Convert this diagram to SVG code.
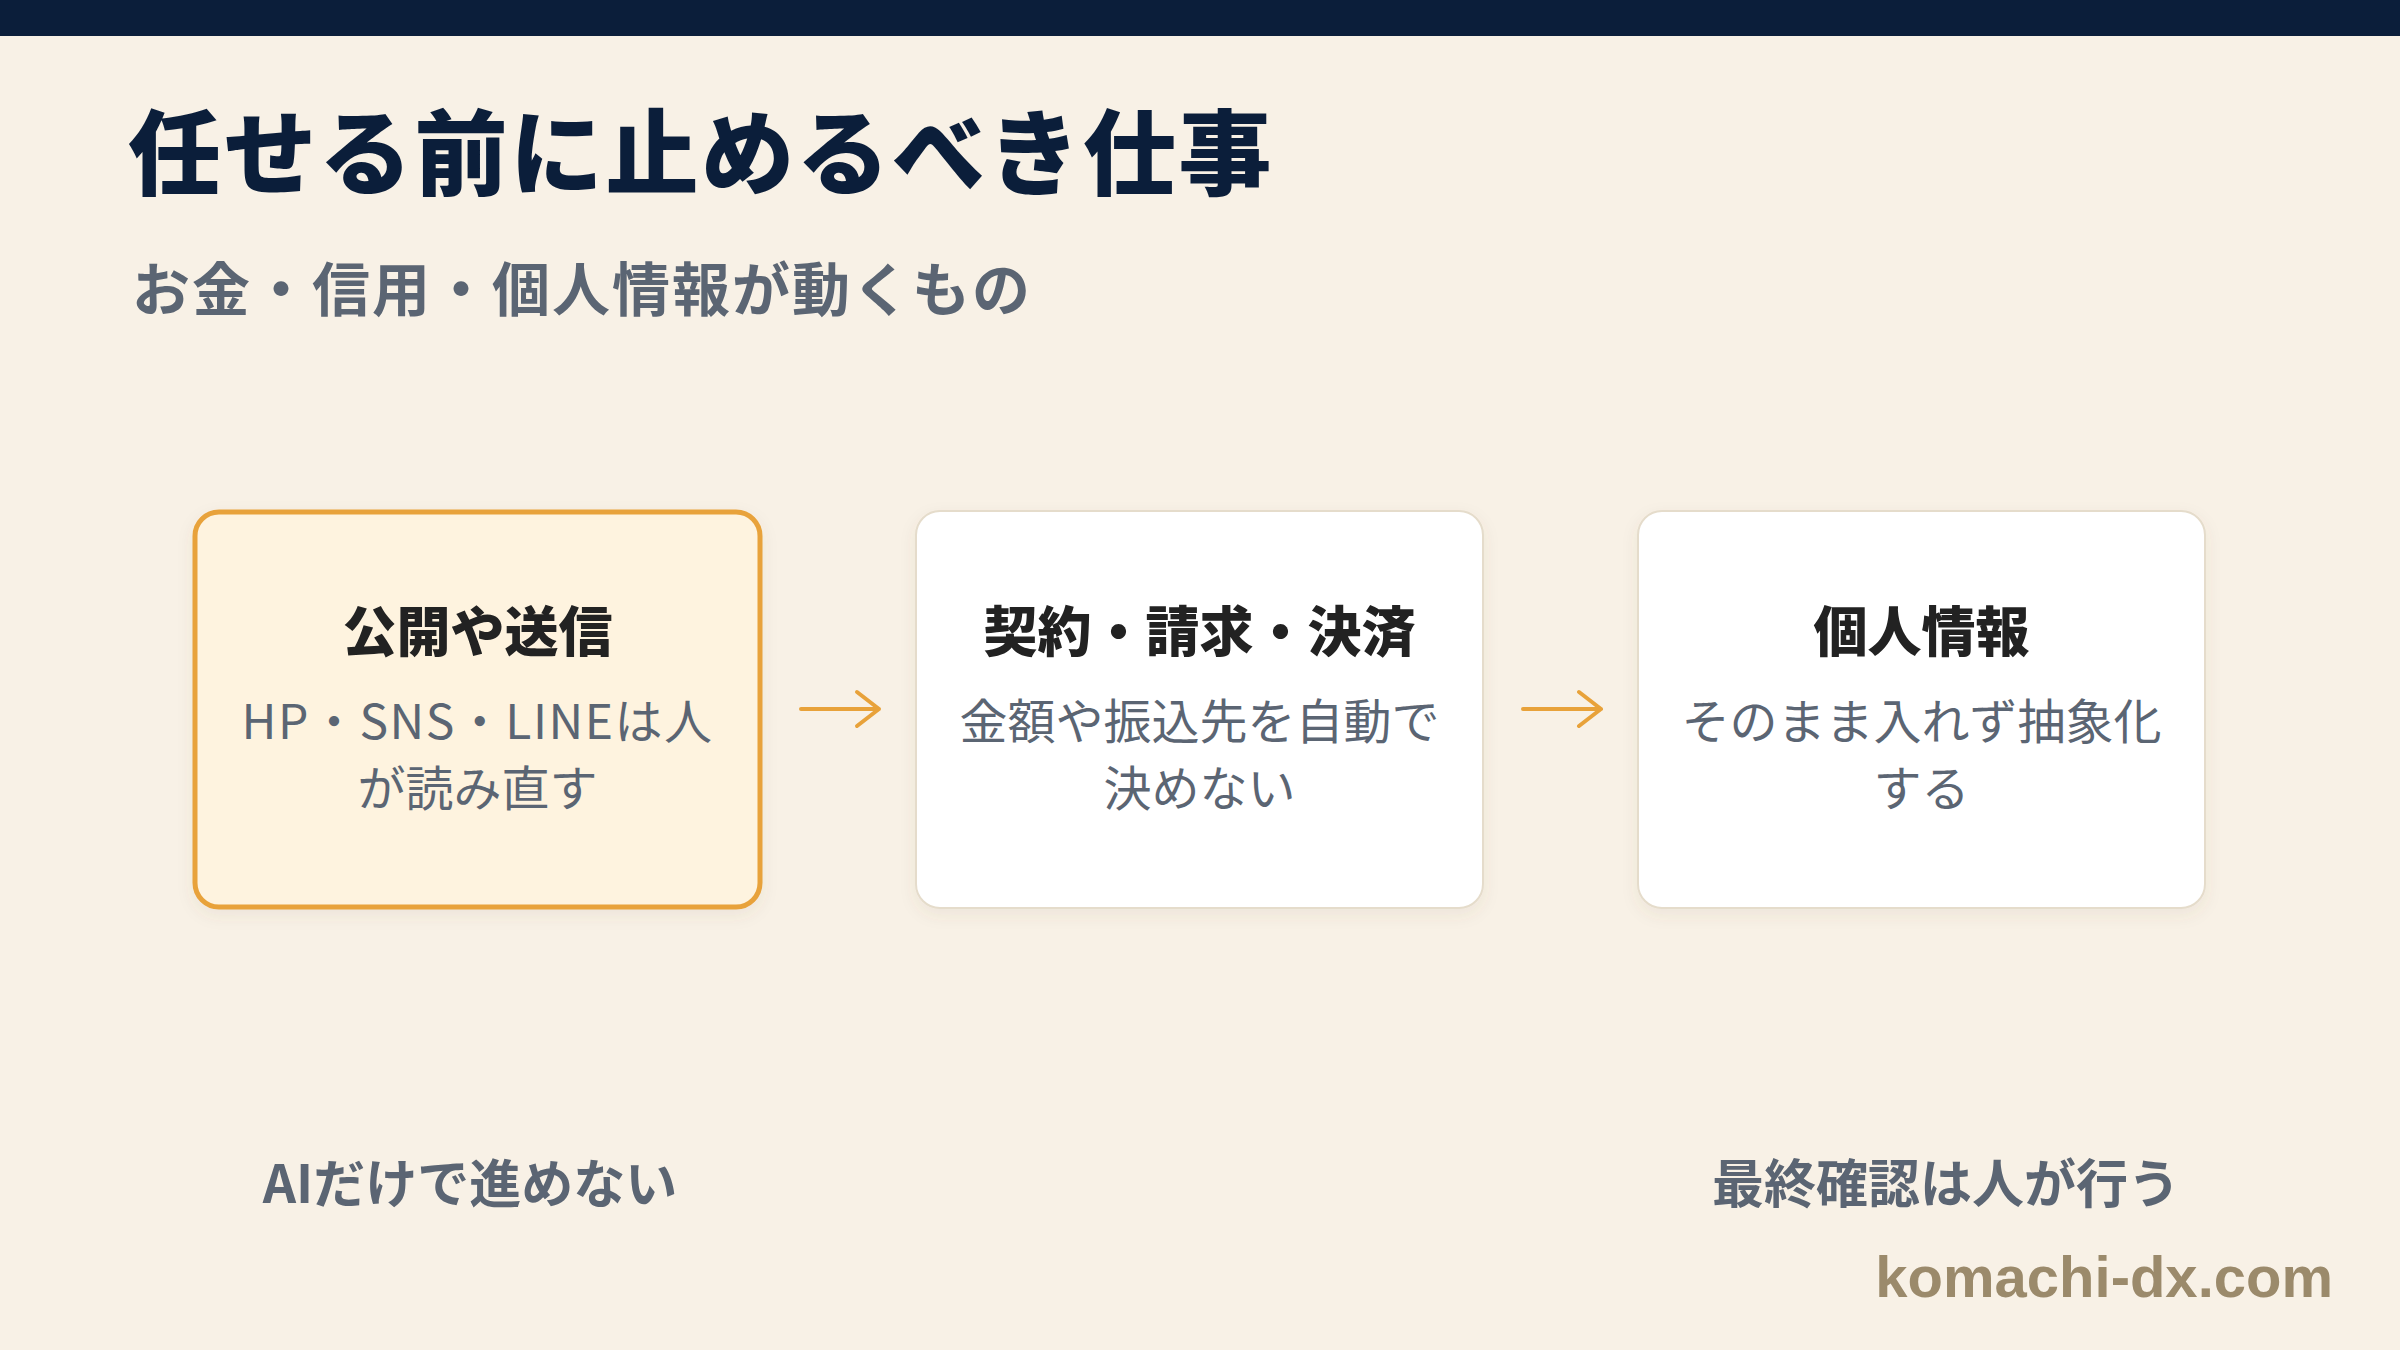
<svg xmlns="http://www.w3.org/2000/svg" width="2400" height="1350" viewBox="0 0 2400 1350">
<defs>
<style>
.ja{font-family:"Noto Sans CJK JP","Noto Sans",sans-serif}
.title{font-size:93px;font-weight:900;fill:#0b1e3a;letter-spacing:2.5px}
.sub{font-size:58px;font-weight:700;fill:#5b6573;letter-spacing:2px}
.head{font-size:54px;font-weight:900;fill:#222222;text-anchor:middle}
.body{font-size:48px;font-weight:400;fill:#5b6573;text-anchor:middle}
.foot{font-size:52px;font-weight:700;fill:#5b6573;text-anchor:middle}
.card{fill:#ffffff;stroke:#e5dccb;stroke-width:2}
.hl{fill:#fef3df;stroke:#e8a23a;stroke-width:5}
.arrow{fill:none;stroke:#e8a23a;stroke-width:4;stroke-linecap:round;stroke-linejoin:round}
</style>
<filter id="sh" x="-10%" y="-10%" width="120%" height="130%">
<feDropShadow dx="0" dy="6" stdDeviation="8" flood-color="#6b5a3a" flood-opacity="0.08"/>
</filter>
</defs>
<rect x="0" y="0" width="2400" height="1350" fill="#f8f1e6"/>
<rect x="0" y="0" width="2400" height="36" fill="#0b1e3a"/>
<g id="title"><text class="ja title" x="128" y="188">任せる前に止めるべき仕事</text></g>
<g id="subtitle"><text class="ja sub" x="132" y="311">お金・信用・個人情報が動くもの</text></g>
<g id="node1">
<rect class="hl" x="195" y="512" width="565" height="395" rx="24" filter="url(#sh)"/>
<text class="ja head" x="477.5" y="652">公開や送信</text>
<text class="ja body" x="477.5" y="739" letter-spacing="1.5">HP・SNS・LINEは人</text>
<text class="ja body" x="477.5" y="806">が読み直す</text>
</g>
<g id="node2">
<rect class="card" x="916" y="511" width="567" height="397" rx="24" filter="url(#sh)"/>
<text class="ja head" x="1199.5" y="652">契約・請求・決済</text>
<text class="ja body" x="1199.5" y="739">金額や振込先を自動で</text>
<text class="ja body" x="1199.5" y="806">決めない</text>
</g>
<g id="node3">
<rect class="card" x="1638" y="511" width="567" height="397" rx="24" filter="url(#sh)"/>
<text class="ja head" x="1921.5" y="652">個人情報</text>
<text class="ja body" x="1921.5" y="739">そのまま入れず抽象化</text>
<text class="ja body" x="1921.5" y="806">する</text>
</g>
<g id="connectors">
<path class="arrow" d="M801 709 H879 M857 692 L879 709 L857 726"/>
<path class="arrow" d="M1523 709 H1601 M1579 692 L1601 709 L1579 726"/>
</g>
<g id="footer-left"><text class="ja foot" x="470" y="1203">AIだけで進めない</text></g>
<g id="footer-right"><text class="ja foot" x="1946" y="1203">最終確認は人が行う</text></g>
<g id="brand"><text x="2333" y="1297" font-family="'Liberation Sans',Arial,sans-serif" font-size="58" font-weight="700" fill="#9b8a6b" text-anchor="end">komachi-dx.com</text></g>
</svg>
